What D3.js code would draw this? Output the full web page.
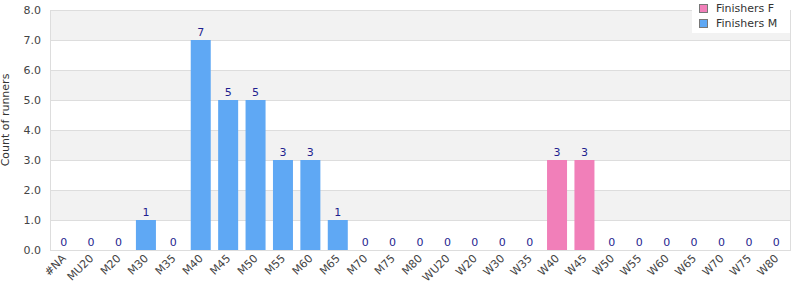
<!DOCTYPE html>
<html>
<head>
<meta charset="utf-8">
<script src="https://cdn.jsdelivr.net/npm/d3@7"></script>
<style>
  body { margin: 0; background: #fff; }
  text { font-family: "DejaVu Sans", sans-serif; }
</style>
</head>
<body>
<svg id="chart" width="800" height="300"></svg>
<script>
    // Data
    const categories = ["#NA", "MU20", "M20", "M30", "M35", "M40", "M45", "M50", "M55", "M60", "M65", "M70", "M75", "M80",
      "WU20", "W20", "W30", "W35", "W40", "W45", "W50", "W55", "W60", "W65", "W70", "W75", "W80"];
    const finishersF = [0, 0, 0, 0, 0, 0, 0, 0, 0, 0, 0, 0, 0, 0, 0, 0, 0, 0, 3, 3, 0, 0, 0, 0, 0, 0, 0];
    const finishersM = [0, 0, 0, 1, 0, 7, 5, 5, 3, 3, 1, 0, 0, 0, 0, 0, 0, 0, 0, 0, 0, 0, 0, 0, 0, 0, 0];
    const yTicks = [0, 1, 2, 3, 4, 5, 6, 7, 8];

    const seriesColors = {"Finishers F": "#f17fb9", "Finishers M": "#5fa8f4"};

    const svg = d3.select("#chart"),
          margin = {top: 10, right: 10, bottom: 50, left: 50},
          width = 800 - margin.left - margin.right,
          height = 300 - margin.top - margin.bottom;

    const g = svg.append("g").attr("transform", `translate(${margin.left},${margin.top})`);

    const x = d3.scaleBand()
      .domain(categories)
      .range([0, width])
      .paddingInner(0.27)
      .paddingOuter(0.135);

    const y = d3.scaleLinear()
      .domain([0, 8])
      .range([height, 0]);

    // Alternating background bands
    g.selectAll("rect.band")
      .data(yTicks.slice(0, -1))
      .join("rect")
      .attr("class", "band")
      .attr("x", 0)
      .attr("y", d => y(d + 1))
      .attr("width", width)
      .attr("height", d => y(d) - y(d + 1))
      .attr("fill", d => d % 2 === 1 ? "#f2f2f2" : "#ffffff")
      .attr("fill", d => (d % 2 === 1 || d === 7) ? "#f2f2f2" : "#ffffff");

    // Grid lines
    g.selectAll("line.grid")
      .data(yTicks)
      .join("line")
      .attr("class", "grid")
      .attr("x1", 0)
      .attr("x2", width)
      .attr("y1", d => y(d) + 0.5)
      .attr("y2", d => y(d) + 0.5)
      .attr("stroke", "#dddddd");

    // Plot border
    g.append("rect")
      .attr("x", 0.5)
      .attr("y", 0.5)
      .attr("width", width)
      .attr("height", height)
      .attr("fill", "none")
      .attr("stroke", "#dddddd");

    // Stacked bars
    const rows = categories.map((c, i) => ({cat: c, "Finishers F": finishersF[i], "Finishers M": finishersM[i]}));
    const stack = d3.stack().keys(["Finishers M", "Finishers F"])(rows);

    g.selectAll("g.series")
      .data(stack)
      .join("g")
      .attr("class", "series")
      .attr("fill", d => seriesColors[d.key])
      .selectAll("rect")
      .data(d => d.filter(p => p[1] - p[0] > 0))
      .join("rect")
      .attr("x", d => x(d.data.cat))
      .attr("y", d => y(d[1]))
      .attr("width", x.bandwidth())
      .attr("height", d => y(d[0]) - y(d[1]));

    // Value labels
    g.selectAll("text.value")
      .data(rows)
      .join("text")
      .attr("class", "value")
      .attr("x", d => x(d.cat) + x.bandwidth() / 2)
      .attr("y", d => {
        const total = d["Finishers F"] + d["Finishers M"];
        return total === 0 ? y(0) - 4 : y(total) - 4;
      })
      .attr("text-anchor", "middle")
      .attr("font-size", "11px")
      .attr("fill", "#1f1f8f")
      .text(d => d["Finishers F"] + d["Finishers M"]);

    // Y axis labels
    g.selectAll("text.ytick")
      .data(yTicks)
      .join("text")
      .attr("class", "ytick")
      .attr("x", -9)
      .attr("y", d => y(d) + 4)
      .attr("text-anchor", "end")
      .attr("font-size", "11px")
      .attr("fill", "#444")
      .text(d => d.toFixed(1));

    // X axis labels
    g.selectAll("text.xtick")
      .data(categories)
      .join("text")
      .attr("class", "xtick")
      .attr("text-anchor", "end")
      .attr("font-size", "11px")
      .attr("fill", "#444")
      .attr("transform", d => `translate(${x(d) + x.bandwidth() / 2 + 3},${height + 9}) rotate(-45)`)
      .text(d => d);

    // Y axis title
    svg.append("text")
      .attr("transform", "rotate(-90)")
      .attr("x", -(margin.top + height / 2) + 10)
      .attr("y", 9)
      .attr("text-anchor", "middle")
      .attr("font-size", "11px")
      .attr("fill", "#333")
      .text("Count of runners");

    // Legend
    const legend = svg.append("g").attr("transform", "translate(692,0)");
    legend.append("rect")
      .attr("width", 98)
      .attr("height", 33)
      .attr("fill", "#fff");
    ["Finishers F", "Finishers M"].forEach((k, i) => {
      legend.append("rect")
        .attr("x", 7.5)
        .attr("y", 4.5 + i * 15)
        .attr("width", 8)
        .attr("height", 8)
        .attr("fill", seriesColors[k])
        .attr("stroke", "#777");
      legend.append("text")
        .attr("x", 24)
        .attr("y", 12 + i * 15)
        .attr("font-size", "11px")
        .attr("fill", "#333")
        .text(k);
    });
</script>
</body>
</html>
